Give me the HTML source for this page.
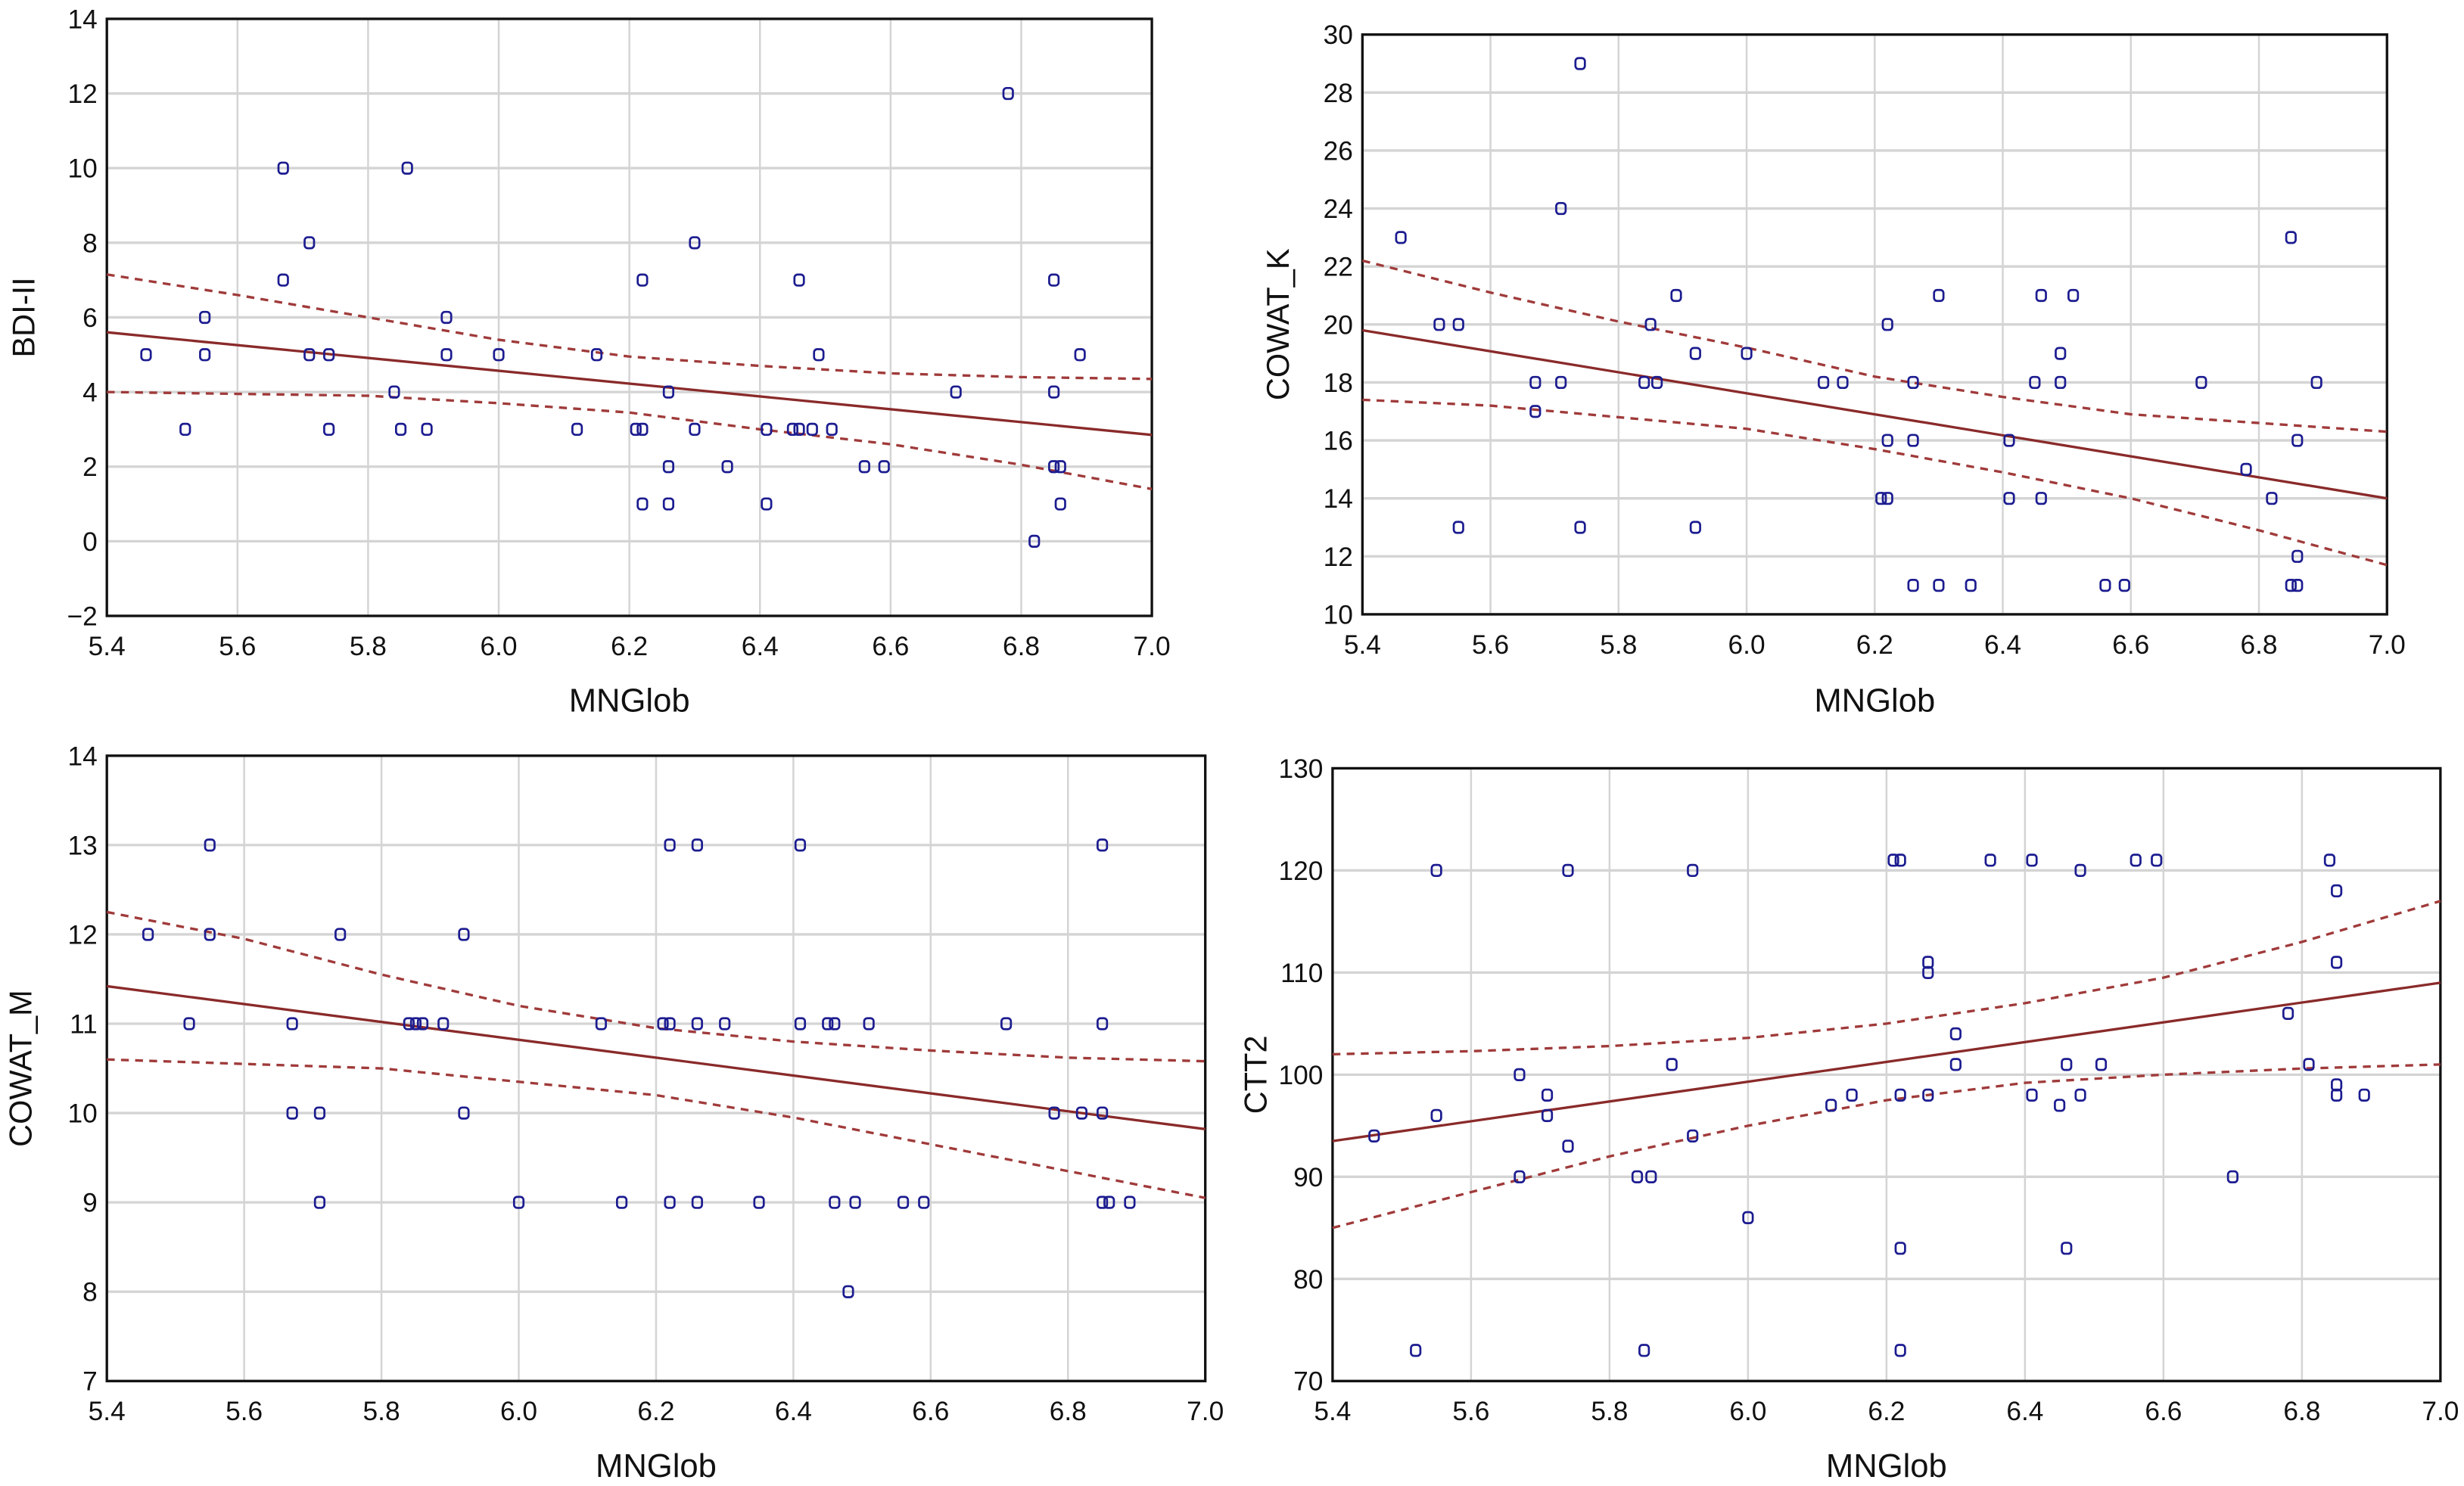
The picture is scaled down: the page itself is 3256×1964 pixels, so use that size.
<!DOCTYPE html>
<html><head><meta charset="utf-8"><style>
html,body{margin:0;padding:0;background:#fff;}
svg{display:block;}
text{font-family:"Liberation Sans Narrow","Liberation Sans",sans-serif;fill:#111;}
</style></head><body>
<svg id="chart" width="3256" height="1964" viewBox="0 0 1568 945.8" xmlns="http://www.w3.org/2000/svg"></svg>
<script>
const xTicks=[5.4,5.6,5.8,6.0,6.2,6.4,6.6,6.8,7.0];
const ciX=[5.4,5.6,5.8,6.0,6.2,6.4,6.6,6.8,7.0];

const p1X=[5.46,5.52,5.55,5.55,5.67,5.67,5.71,5.71,5.74,5.74,5.84,5.85,5.86,5.89,5.92,5.92,6.0,6.12,6.15,6.21,6.22,6.22,6.22,6.26,6.26,6.26,6.30,6.30,6.35,6.41,6.41,6.45,6.46,6.46,6.48,6.49,6.51,6.56,6.59,6.70,6.78,6.82,6.85,6.85,6.86,6.85,6.86,6.89];
const p1Y=[5,3,6,5,10,7,8,5,5,3,4,3,10,3,6,5,5,3,5,3,3,7,1,4,2,1,8,3,2,3,1,3,3,7,3,5,3,2,2,4,12,0,2,7,2,4,1,5];
const p1Fit=[5.6,2.85];
const p1Up=[7.15,6.6,6.0,5.4,4.95,4.7,4.5,4.4,4.35];
const p1Lo=[4.0,3.95,3.9,3.7,3.45,3.0,2.6,2.05,1.4];
const p1YTicks=[-2,0,2,4,6,8,10,12,14];

const p2X=[5.46,5.52,5.55,5.55,5.67,5.67,5.71,5.71,5.74,5.74,5.84,5.85,5.86,5.89,5.92,5.92,6.0,6.12,6.15,6.21,6.22,6.22,6.22,6.26,6.26,6.26,6.30,6.30,6.35,6.41,6.41,6.45,6.46,6.46,6.49,6.49,6.51,6.56,6.59,6.71,6.78,6.82,6.85,6.86,6.86,6.86,6.85,6.89];
const p2Y=[23,20,20,13,18,17,24,18,29,13,18,20,18,21,19,13,19,18,18,14,14,20,16,18,16,11,21,11,11,16,14,18,21,14,18,19,21,11,11,18,15,14,23,16,12,11,11,18];
const p2Fit=[19.8,14.0];
const p2Up=[22.2,21.1,20.1,19.2,18.2,17.5,16.9,16.6,16.3];
const p2Lo=[17.4,17.2,16.8,16.4,15.7,14.9,14.0,12.9,11.7];
const p2YTicks=[10,12,14,16,18,20,22,24,26,28,30];

const p3X=[5.46,5.52,5.55,5.55,5.67,5.67,5.71,5.71,5.74,5.84,5.85,5.86,5.89,5.92,5.92,6.0,6.12,6.15,6.21,6.22,6.22,6.22,6.26,6.26,6.26,6.30,6.35,6.41,6.41,6.45,6.46,6.46,6.48,6.49,6.51,6.56,6.59,6.71,6.78,6.82,6.85,6.85,6.85,6.85,6.86,6.89];
const p3Y=[12,11,13,12,11,10,10,9,12,11,11,11,11,12,10,9,11,9,11,11,13,9,13,11,9,11,9,13,11,11,11,9,8,9,11,9,9,11,10,10,13,11,10,9,9,9];
const p3Fit=[11.42,9.82];
const p3Up=[12.25,11.95,11.55,11.2,10.95,10.8,10.7,10.62,10.58];
const p3Lo=[10.6,10.55,10.5,10.35,10.2,9.95,9.65,9.35,9.05];
const p3YTicks=[7,8,9,10,11,12,13,14];

const p4X=[5.46,5.52,5.55,5.55,5.67,5.67,5.71,5.71,5.74,5.74,5.84,5.85,5.86,5.89,5.92,5.92,6.0,6.12,6.15,6.21,6.22,6.22,6.22,6.22,6.26,6.26,6.26,6.30,6.30,6.35,6.41,6.41,6.45,6.46,6.46,6.48,6.48,6.51,6.56,6.59,6.70,6.78,6.81,6.84,6.85,6.85,6.85,6.85,6.89];
const p4Y=[94,73,96,120,100,90,98,96,120,93,90,73,90,101,120,94,86,97,98,121,121,83,73,98,111,110,98,104,101,121,121,98,97,101,83,120,98,101,121,121,90,106,101,121,118,111,99,98,98];
const p4Fit=[93.5,109];
const p4Up=[102,102.3,102.8,103.6,105,107,109.5,113,117];
const p4Lo=[85,88.5,92,95,97.5,99.2,100,100.6,101];
const p4YTicks=[70,80,90,100,110,120,130];

const NS="http://www.w3.org/2000/svg";
const svg=document.getElementById('chart');
function mk(tag,attrs,parent){const e=document.createElementNS(NS,tag);for(const k in attrs)e.setAttribute(k,attrs[k]);(parent||svg).appendChild(e);return e;}

function panel(id,L,R,T,B,ymin,ymax,yTicks,xs,ys,fit,up,lo,ylabel,ylabX,xlabY){
  const g=mk('g',{});
  
  
  const sx=v=>L+(v-5.4)/(7.0-5.4)*(R-L);
  const sy=v=>B-(v-ymin)/(ymax-ymin)*(B-T);
  xTicks.forEach(t=>{
    const l=mk('line',{x1:sx(t),x2:sx(t),y1:T,y2:B,stroke:'#d4d4d4','stroke-width':1.2},g);
    
    
    const tx=mk('text',{x:sx(t),y:B+25,'font-size':17,'text-anchor':'middle'},g);
    tx.textContent=t.toFixed(1);
    
    
  });
  yTicks.forEach(t=>{
    const l=mk('line',{x1:L,x2:R,y1:sy(t),y2:sy(t),stroke:'#d4d4d4','stroke-width':1.6},g);
    
    
    const tx=mk('text',{x:L-6,y:sy(t)+6,'font-size':17,'text-anchor':'end'},g);
    tx.textContent=t<0?'\u2212'+Math.abs(t):String(t);
    
    
  });
  const fr=mk('rect',{x:L,y:T,width:R-L,height:B-T,fill:'none',stroke:'#111','stroke-width':1.6},g);
  
  
  const band=(arr,name)=>{
    const p=mk('polyline',{points:ciX.map((x,i)=>sx(x)+','+sy(arr[i])).join(' '),fill:'none',stroke:'#a03a3a','stroke-width':1.6,'stroke-dasharray':'5,4'},g);
    
    
  };
  band(up,'confidence-upper');
  band(lo,'confidence-lower');
  const fl=mk('line',{x1:sx(5.4),y1:sy(fit[0]),x2:sx(7.0),y2:sy(fit[1]),stroke:'#8a2a2a','stroke-width':1.6},g);
  
  
  xs.forEach((x,i)=>{
    const m=mk('rect',{x:sx(x)-3,y:sy(ys[i])-3.5,width:6,height:7,rx:2,fill:'none',stroke:'#1c1c90','stroke-width':1.3},g);
    
    
  });
  const yl=mk('text',{x:0,y:0,'font-size':20,'text-anchor':'middle',transform:`translate(${ylabX},${(T+B)/2}) rotate(-90)`,style:'font-family:"Liberation Sans",sans-serif'},g);
  yl.textContent=ylabel;
  
  
  const xl=mk('text',{x:(L+R)/2,y:xlabY,'font-size':21,'text-anchor':'middle'},g);
  xl.textContent='MNGlob';
  
  
}
panel('panel-bdi',68,733,12,392,-2,14,p1YTicks,p1X,p1Y,p1Fit,p1Up,p1Lo,'BDI-II',22,453);
panel('panel-cowat-k',867,1519,22,391,10,30,p2YTicks,p2X,p2Y,p2Fit,p2Up,p2Lo,'COWAT_K',820,453);
panel('panel-cowat-m',68,767,481,879,7,14,p3YTicks,p3X,p3Y,p3Fit,p3Up,p3Lo,'COWAT_M',20,940);
panel('panel-ctt2',848,1553,489,879,70,130,p4YTicks,p4X,p4Y,p4Fit,p4Up,p4Lo,'CTT2',806,940);
</script>
</body></html>
